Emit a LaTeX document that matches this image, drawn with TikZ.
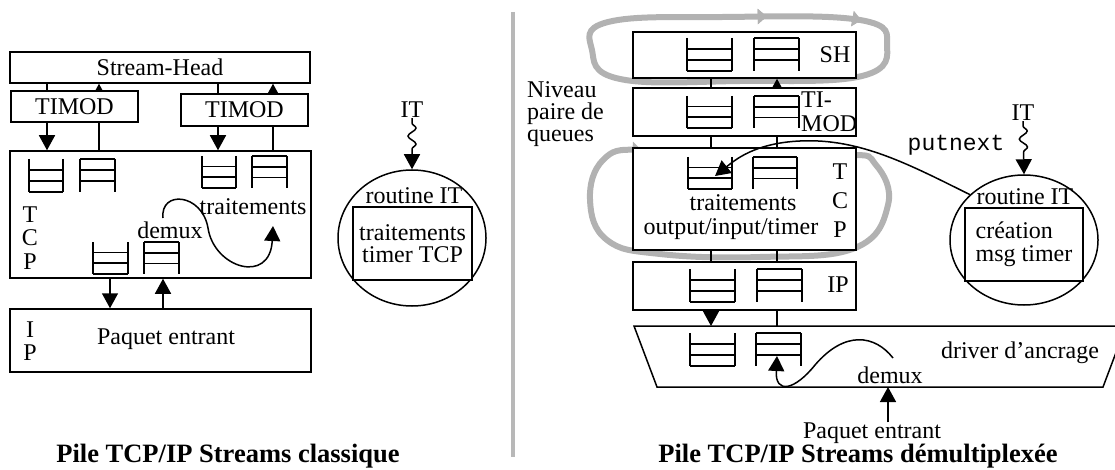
\documentclass[tikz,border=0pt]{standalone}
\usepackage{fontspec}
\setmainfont{Liberation Serif}
\setmonofont{Liberation Mono}
\usetikzlibrary{arrows.meta,shapes.geometric,decorations.pathmorphing,decorations.markings,calc}
\pgfdeclarelayer{loops}
\pgfdeclarelayer{links}
\pgfsetlayers{loops,links,main}
\newcommand\fsz{\fontsize{24}{24}\selectfont}
\newcommand\qdown[4]{%
  \draw[qline] (#1,#2) -- ++(0,#4) (#1+#3,#2) -- ++(0,#4)
     (#1,#2+#4/3) -- ++(#3,0) (#1,#2+#4) -- ++(#3,0);
  \draw[qthick] (#1,#2+2*#4/3) -- ++(#3,0);}
\newcommand\qup[4]{%
  \draw[qline] (#1,#2) -- ++(0,#4) (#1+#3,#2) -- ++(0,#4)
     (#1,#2) -- ++(#3,0) (#1,#2+2*#4/3) -- ++(#3,0);
  \draw[qthick] (#1,#2+#4/3) -- ++(#3,0);}
\begin{document}
\begin{tikzpicture}[x=1pt,y=-1pt,
  box/.style={draw, line width=1.5pt, fill=white, inner sep=0pt, font=\fsz},
  lbl/.style={inner sep=0pt, font=\fsz},
  arr/.style={line width=1.5pt, -{Triangle[length=15pt,width=16pt]}},
  lnk/.style={line width=1.5pt},
  gloop/.style={line width=6pt, draw=black!30},
  gmark/.style={decoration={markings, mark=at position #1 with {\arrow[black!30]{Triangle[length=9pt,width=15pt]}}}, postaction={decorate}},
  qline/.style={line width=1.4pt},
  qthick/.style={line width=2pt},
  wavy/.style={decorate, decoration={snake, amplitude=4pt, segment length=16pt, pre length=5pt, post length=15pt}},
  ell/.style={draw, ellipse, line width=1.5pt, inner sep=0pt}
]
\useasboundingbox (0,0) rectangle (1115,470);
\clip (0,0) rectangle (1115,470);

% ---------------- left stack ----------------
\node[box, minimum width=300pt, minimum height=31pt] (sh) at (160,67.5) {Stream-Head};
\node[box, minimum width=127pt, minimum height=31pt] (tm1) at (74.5,106.5) {TIMOD};
\node[box, minimum width=127pt, minimum height=32pt] (tm2) at (244.5,110) {TIMOD};
\node[box, minimum width=301pt, minimum height=127pt] (tcp1) at (160.5,214.5) {};
\node[box, minimum width=301pt, minimum height=63pt] (ip1) at (160.5,340.5) {};
\node[lbl, align=center, font=\fontsize{24}{23.5}\selectfont] (tcpl1) at (30,238) {T\\C\\P};
\node[lbl] (tr1) at (253,207) {traitements};
\node[lbl] (dm1) at (170,230) {demux};
\node[lbl, align=center, font=\fontsize{24}{23}\selectfont] (ipl1) at (30,341) {I\\P};
\node[lbl] (pe1) at (166,339) {Paquet entrant};

\node[ell, minimum width=148pt, minimum height=136pt] (itc1) at (412,238) {};
\node[lbl] (rt1) at (414,196) {routine IT};
\node[box, minimum width=119pt, minimum height=73pt, align=center, font=\fontsize{24}{22}\selectfont] (itr1) at (412.5,243.5) {traitements\\timer TCP};
\node[lbl] (it1) at (412,110) {IT};
\draw[arr, wavy] (it1.south) -- (itc1.north);

\coordinate (xa) at (47,0);
\coordinate (xb) at (99,0);
\coordinate (xc) at (218,0);
\coordinate (xd) at (273,0);
\coordinate (xe) at (110,0);
\coordinate (xf) at (163,0);
\begin{pgfonlayer}{links}
\draw[lnk] (tm1.north -| xa) -- (sh.south -| xa);
\draw[arr] (tm1.north -| xb) -- (sh.south -| xb);
\draw[lnk] (tm2.north -| xc) -- (sh.south -| xc);
\draw[arr] (tm2.north -| xd) -- (sh.south -| xd);
\draw[arr] (tm1.south -| xa) -- (tcp1.north -| xa);
\draw[lnk] (tm1.south -| xb) -- (tcp1.north -| xb);
\draw[arr] (tm2.south -| xc) -- (tcp1.north -| xc);
\draw[lnk] (tm2.south -| xd) -- (tcp1.north -| xd);
\draw[arr] (tcp1.south -| xe) -- (ip1.north -| xe);
\draw[arr] (ip1.north -| xf) -- (tcp1.south -| xf);
\end{pgfonlayer}

\qdown{29}{159}{34}{33}
\qup{80}{159}{35}{33}
\qdown{202}{156}{34}{32}
\qup{252}{156}{35}{32}
\qdown{93}{242}{35}{32}
\qup{144}{242}{35}{32}

\coordinate (dmS) at (163,218);
\coordinate (dmE) at (273,226);
\draw[arr] (dmS) .. controls (160,190) and (202,193) .. (208,228) .. controls (214,268) and (270,285) .. (dmE);

% separator
\draw[line width=4pt, black!28] (513,12) -- (513,457);

% captions
\node[inner sep=0pt, font=\bfseries\fontsize{26.5}{26.5}\selectfont] (cap1) at (228,456) {Pile TCP/IP Streams classique};
\node[inner sep=0pt, font=\bfseries\fontsize{26.5}{26.5}\selectfont] (cap2) at (858,456) {Pile TCP/IP Streams démultiplexée};

% ---------------- right stack ----------------
\begin{pgfonlayer}{loops}
\draw[gloop, gmark=0.002, gmark=0.86] plot[smooth cycle, tension=0.7] coordinates {(723,17) (860,20) (887,45) (862,76) (740,81) (620,79) (592,50) (608,22)};
\draw[gloop, gmark=0.002] plot[smooth cycle, tension=0.7] coordinates {(603,160) (640,150) (720,165) (845,155) (876,165) (888,205) (855,248) (760,257) (660,254) (607,240) (590,200)};
\end{pgfonlayer}

\node[lbl, align=left, anchor=west, font=\fontsize{24}{22}\selectfont] (niv) at (527,114) {Niveau\\paire de\\queues};

\node[box, minimum width=223pt, minimum height=46pt] (shR) at (744.5,55) {};
\node[lbl] (shl) at (835,55) {SH};
\node[box, minimum width=223pt, minimum height=48pt] (tmR) at (744.5,112) {};
\node[lbl, align=left, anchor=west, font=\fontsize{24}{24}\selectfont] (tml) at (801,112) {TI-\\MOD};
\node[box, minimum width=223pt, minimum height=102pt] (tcpR) at (744.5,199) {};
\node[lbl, align=center, font=\fontsize{24}{29}\selectfont] (tcpl2) at (840,201) {T\\C\\P};
\node[lbl] (tr2) at (743,203) {traitements};
\node[lbl] (oit) at (731,229) {output/input/timer};
\node[box, minimum width=223pt, minimum height=48pt] (ipR) at (744.5,286) {};
\node[lbl] (ipl2) at (838,285) {IP};

\draw[line width=1.5pt, fill=white] (634,326) coordinate (drTop) -- (1126,326) -- (1103,387) -- (657,387) -- cycle;
\node[lbl] (drv) at (1020,353) {driver d’ancrage};
\node[lbl] (dm2) at (890,375) {demux};
\coordinate (drB) at (888,387);
\node[lbl] (pe2) at (872,433) {Paquet entrant};
\draw[arr] (pe2.north -| drB) -- (drB);

\coordinate (xg) at (711,0);
\coordinate (xh) at (777,0);
\begin{pgfonlayer}{links}
\draw[lnk] (tmR.north -| xg) -- (shR.south -| xg);
\draw[arr] (tmR.north -| xh) -- (shR.south -| xh);
\draw[lnk] (tmR.south -| xg) -- (tcpR.north -| xg);
\draw[lnk] (tmR.south -| xh) -- (tcpR.north -| xh);
\draw[lnk] (tcpR.south -| xg) -- (ipR.north -| xg);
\draw[lnk] (tcpR.south -| xh) -- (ipR.north -| xh);
\draw[arr] (ipR.south -| xg) -- (drTop -| xg);
\draw[lnk] (ipR.south -| xh) -- (drTop -| xh);
\end{pgfonlayer}

\qdown{687}{38}{45}{33}
\qup{754}{38}{45}{33}
\qdown{687}{96}{45}{32}
\qup{754}{96}{45}{32}
\qdown{688}{157}{44}{32}
\qup{753}{157}{44}{32}
\qdown{690}{269}{45}{33}
\qup{757}{269}{45}{33}
\qdown{690}{333}{45}{33}
\qup{756}{333}{45}{33}

\coordinate (dm2S) at (893,358);
\coordinate (dm2E) at (777,356);
\draw[arr] (dm2S) .. controls (875,335) and (845,330) .. (815,365) .. controls (795,390) and (775,395) .. (dm2E);

\node[ell, minimum width=148pt, minimum height=130pt] (itc2) at (1024,240) {};
\node[lbl] (rt2) at (1025,197) {routine IT};
\node[box, minimum width=118pt, minimum height=73pt, align=left, font=\fontsize{24}{23}\selectfont] (itr2) at (1024,244.5) {création\\msg timer};
\node[lbl] (it2) at (1023,113) {IT};
\draw[arr, wavy] (it2.south) -- (itc2.north);
\node[lbl, font=\ttfamily\fontsize{23}{23}\selectfont] (pn) at (956,145) {putnext};

\coordinate (pnEnd) at (715,176);
\draw[arr] (itc2.140) .. controls (910,165) and (860,138) .. (800,141) .. controls (755,143) and (735,160) .. (pnEnd);
\end{tikzpicture}
\end{document}
